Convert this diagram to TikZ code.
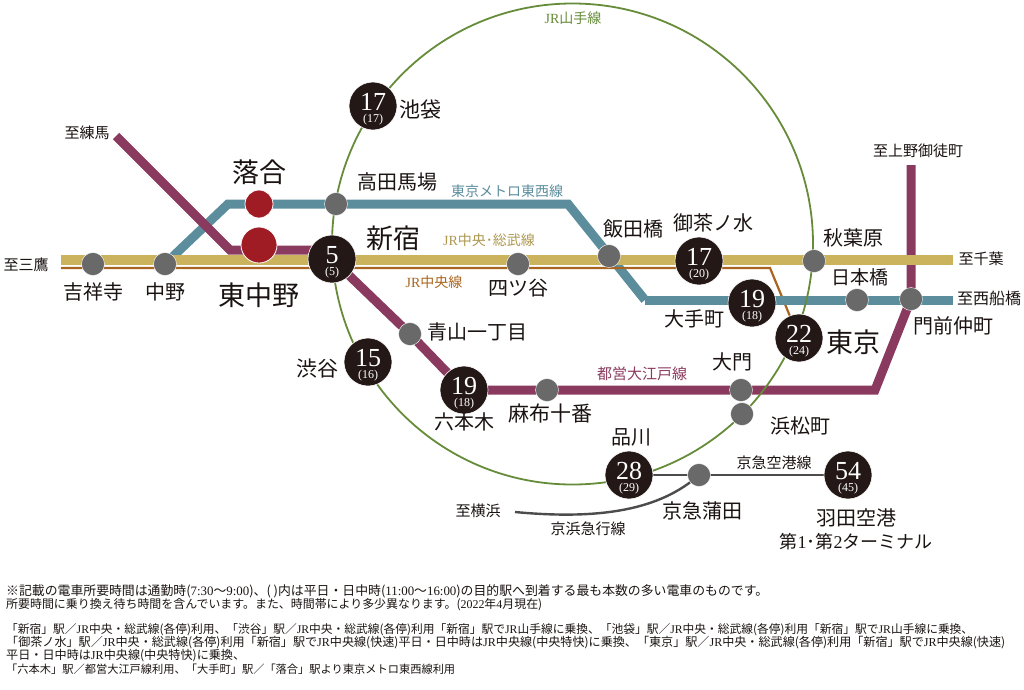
\documentclass[tikz,border=0pt]{standalone}
\usepackage{fontspec}
\usetikzlibrary{backgrounds}
\setmainfont{Noto Sans CJK JP}
\newfontfamily\numfont{Liberation Serif}
\definecolor{cpurple}{HTML}{8A3A5E}
\definecolor{cteal}{HTML}{5B8D9D}
\definecolor{cgold}{HTML}{CBB35E}
\definecolor{corange}{HTML}{A9651F}
\definecolor{cgreen}{HTML}{668C3A}
\definecolor{cdark}{HTML}{231815}
\definecolor{cgrey}{HTML}{696969}
\definecolor{cred}{HTML}{A01C25}
\definecolor{ctext}{HTML}{1A1311}
\tikzset{
  x=1pt,y=-1pt,
  line/.style={line join=miter,line cap=butt},
  purple line/.style={line,draw=cpurple,line width=9pt},
  teal line/.style={line,draw=cteal,line width=9pt},
  gold line/.style={line,draw=cgold,line width=9.5pt},
  orange line/.style={line,draw=corange,line width=2.2pt},
  green line/.style={draw=cgreen,line width=1.8pt},
  keikyu line/.style={draw=black!70,line width=2.4pt},
  stn/.style={circle,fill=cgrey,draw=white,line width=.4pt,minimum size=23pt,inner sep=0pt},
  big/.style={circle,fill=cdark,draw=white,line width=.6pt,minimum size=48pt,inner sep=0pt,text=white},
  redstn/.style={circle,fill=cred,draw=white,line width=.8pt,inner sep=0pt},
  lab/.style={text=ctext,font=\fontsize{20}{22}\selectfont,inner sep=0pt},
  lablarge/.style={text=ctext,font=\fontsize{27}{29}\selectfont,inner sep=0pt},
  dest/.style={text=ctext,font=\fontsize{15}{17}\selectfont,inner sep=0pt},
  linename/.style={font=\fontsize{14}{16}\selectfont,inner sep=0pt},
  note/.style={anchor=west,text=ctext,font=\fontsize{11.5}{13}\selectfont,inner sep=0pt}
}
\newcommand{\lat}[1]{{\numfont #1}}
\newcommand{\mins}[2]{\makebox[0pt]{\smash{\raisebox{-4pt}{\numfont\fontsize{26}{26}\selectfont #1}}}\makebox[0pt]{\smash{\raisebox{-16pt}{\numfont\fontsize{12}{12}\selectfont (#2)}}}}
\newcommand{\fit}[2]{\resizebox{#1pt}{!}{#2}}
\begin{document}
\begin{tikzpicture}
\useasboundingbox (0,0) rectangle (1024,689);
% stations
\node[stn] (kichijoji) at (93,264) {};
\node[stn] (nakano) at (165,264) {};
\node[redstn,minimum size=36pt] (higashinakano) at (259,245) {};
\node[redstn,minimum size=28pt] (ochiai) at (259,204) {};
\node[big] (shinjuku) at (332,259) {\mins{5}{5}};
\node[stn] (takadanobaba) at (336,204) {};
\node[big] (ikebukuro) at (373,106) {\mins{17}{17}};
\node[stn] (yotsuya) at (518,264) {};
\node[stn] (iidabashi) at (609,256) {};
\node[big] (ochanomizu) at (699,261) {\mins{17}{20}};
\node[stn] (akihabara) at (814,261) {};
\node[big] (otemachi) at (752,303) {\mins{19}{18}};
\node[stn] (nihonbashi) at (857,300) {};
\node[stn] (monzen) at (911,299) {};
\node[big] (tokyo) at (799,338) {\mins{22}{24}};
\node[stn] (aoyama) at (410,334) {};
\node[big] (shibuya) at (368,362) {\mins{15}{16}};
\node[big] (roppongi) at (464,390) {\mins{19}{18}};
\node[stn] (azabu) at (547,390) {};
\node[stn] (daimon) at (741,390) {};
\node[stn] (hamamatsucho) at (742,414) {};
\node[big] (shinagawa) at (629,475) {\mins{28}{29}};
\node[stn] (kamata) at (699,475) {};
\node[big] (haneda) at (848,475) {\mins{54}{45}};
% free ends and bends
\coordinate (wNerima) at (116,136);
\coordinate (wP1) at (230,250);
\coordinate (wP2) at (875,390);
\coordinate (wUeno) at (911,165);
\coordinate (wT1) at (228,204);
\coordinate (wT2) at (568,204);
\coordinate (wT3) at (645,300);
\coordinate (wFuna) at (953,300);
\coordinate (wMitaka) at (61,260);
\coordinate (wChiba) at (953,260);
\coordinate (wO0) at (61,268);
\coordinate (wO1) at (770,268);
\coordinate (wYoko) at (515,512);
\coordinate (cCenter) at (572.5,244);
\begin{scope}[on background layer]
\draw[teal line] (nakano.center) -- (wT1) -- (wT2) -- (wT3);
\draw[purple line] (wNerima) -- (wP1) -- (wP1-|shinjuku.center);
\draw[purple line] (shinjuku.center) -- (aoyama.center) -- (roppongi.center) -- (wP2) -- (monzen.center) -- (wUeno);
\draw[gold line] (wMitaka) -- (wChiba);
\draw[orange line] (wO0) -- (wO1) -- (tokyo.center);
\draw[teal line] (wT3) -- (wFuna);
\draw[green line] (cCenter) circle[radius=240.5pt];
\draw[keikyu line] (shinagawa.center) -- (haneda.center);
\draw[keikyu line] (kamata.center) .. controls (660,510) and (600,520) .. (wYoko);
\end{scope}
% station labels
\node[lablarge] at (259,172) {落合};
\node[lablarge] at (259,295) {東中野};
\node[lablarge] at (393,238) {新宿};
\node[lablarge] at (853,342) {東京};
\node[lab] at (93,292) {吉祥寺};
\node[lab] at (165,292) {中野};
\node[lab] at (397,182) {高田馬場};
\node[lab,font=\fontsize{21}{23}\selectfont] at (420,110) {池袋};
\node[lab] at (518,288) {四ツ谷};
\node[lab] at (633,229) {飯田橋};
\node[lab] at (713,223) {御茶ノ水};
\node[lab] at (853,238) {秋葉原};
\node[lab,font=\fontsize{19}{21}\selectfont] at (860,277) {日本橋};
\node[lab] at (694,319) {大手町};
\node[lab] at (953,326) {門前仲町};
\node[lab] at (477,332) {青山一丁目};
\node[lab,font=\fontsize{21}{23}\selectfont] at (317,369) {渋谷};
\node[lab] at (464,422) {六本木};
\node[lab,font=\fontsize{21}{23}\selectfont] at (550,414) {麻布十番};
\node[lab] at (732,362) {大門};
\node[lab] at (800,426) {浜松町};
\node[lab] at (631,437) {品川};
\node[lab] at (702,511) {京急蒲田};
\node[lab,align=center,font=\fontsize{20}{23}\selectfont] at (856,529) {羽田空港\\\fit{153}{第\lat{1}･第\lat{2}ターミナル}};
% destination labels
\node[dest] at (87,133) {至練馬};
\node[dest] at (26,265) {至三鷹};
\node[dest] at (918,151) {至上野御徒町};
\node[dest] at (981,259) {至千葉};
\node[dest,font=\fontsize{16}{18}\selectfont] at (989,298) {至西船橋};
\node[dest] at (478,511) {至横浜};
% line names
\node[linename,text=cgreen] at (573,18) {\lat{JR}山手線};
\node[linename,text=cteal] at (507,191) {東京メトロ東西線};
\node[linename,text=cgold!85!black] at (489,240) {\lat{JR}中央･総武線};
\node[linename,text=corange] at (434,282) {\lat{JR}中央線};
\node[linename,text=cpurple,font=\fontsize{15}{17}\selectfont] at (642,374) {都営大江戸線};
\node[linename,text=ctext,font=\fontsize{15}{17}\selectfont] at (774,463) {京急空港線};
\node[linename,text=ctext,font=\fontsize{15}{17}\selectfont] at (588,529) {京浜急行線};
% notes
\node[note] at (6,591) {\fit{762}{※記載の電車所要時間は通勤時(\lat{7:30}〜\lat{9:00})、( )内は平日・日中時(\lat{11:00}〜\lat{16:00})の目的駅へ到着する最も本数の多い電車のものです。}};
\node[note] at (6,605) {\fit{536}{所要時間に乗り換え待ち時間を含んでいます。また、時間帯により多少異なります。(\lat{2022}年\lat{4}月現在)}};
\node[note] at (6,630) {\fit{967}{「新宿」駅／\lat{JR}中央・総武線(各停)利用、「渋谷」駅／\lat{JR}中央・総武線(各停)利用「新宿」駅で\lat{JR}山手線に乗換、「池袋」駅／\lat{JR}中央・総武線(各停)利用「新宿」駅で\lat{JR}山手線に乗換、}};
\node[note] at (6,643) {\fit{999}{「御茶ノ水」駅／\lat{JR}中央・総武線(各停)利用「新宿」駅で\lat{JR}中央線(快速)平日・日中時は\lat{JR}中央線(中央特快)に乗換、「東京」駅／\lat{JR}中央・総武線(各停)利用「新宿」駅で\lat{JR}中央線(快速)}};
\node[note] at (6,656) {\fit{239}{平日・日中時は\lat{JR}中央線(中央特快)に乗換、}};
\node[note] at (6,669) {\fit{449}{「六本木」駅／都営大江戸線利用、「大手町」駅／「落合」駅より東京メトロ東西線利用}};
\end{tikzpicture}
\end{document}
